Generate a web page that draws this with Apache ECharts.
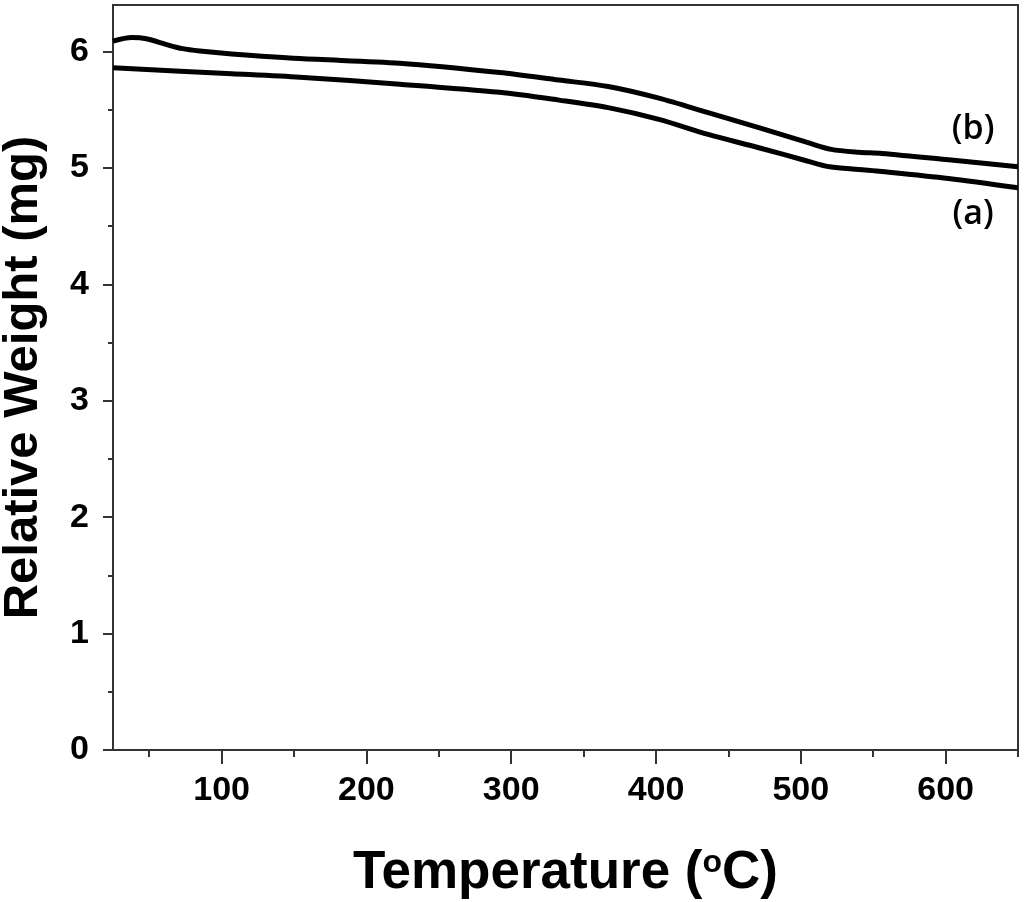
<!DOCTYPE html>
<html>
<head>
<meta charset="utf-8">
<script src="https://cdn.jsdelivr.net/npm/echarts@6/dist/echarts.min.js"></script>
<style>
html,body{margin:0;padding:0;background:#fff;}
#chart{width:1024px;height:902px;}
</style>
</head>
<body>
<div id="chart"></div>
<script>
// Temperature (°C) and relative weight (mg)
const tempB = [25, 38, 48, 62, 73, 85, 107, 154, 223, 292, 333, 367, 402, 436, 471, 505, 521, 540, 556, 602, 650];
const weightB = [6.09, 6.12, 6.11, 6.06, 6.025, 6.005, 5.98, 5.94, 5.90, 5.82, 5.755, 5.70, 5.60, 5.475, 5.346, 5.217, 5.16, 5.135, 5.125, 5.07, 5.01];
const tempA = [25, 107, 154, 223, 292, 333, 367, 402, 436, 471, 505, 520, 540, 556, 602, 650];
const weightA = [5.86, 5.81, 5.78, 5.72, 5.65, 5.583, 5.518, 5.417, 5.288, 5.174, 5.058, 5.01, 4.987, 4.97, 4.91, 4.83];

const xMajorTicks = [100, 200, 300, 400, 500, 600];
const xMinorTicks = [50, 150, 250, 350, 450, 550, 650];
const yMajorTicks = [0, 1, 2, 3, 4, 5, 6];
const yMinorTicks = [0.5, 1.5, 2.5, 3.5, 4.5, 5.5];

const curveLabels = ['(a)', '(b)'];
const labelPosA = [619, 4.60];
const labelPosB = [619, 5.33];

const zip = (xs, ys) => xs.map((x, i) => [x, ys[i]]);

const chart = echarts.init(document.getElementById('chart'));
const axisColor = '#333';
const font = 'Liberation Sans, Arial, sans-serif';

chart.setOption({
  animation: false,
  backgroundColor: '#fff',
  grid: {
    left: 113, right: 6, top: 5, bottom: 152,
    containLabel: false, outerBoundsMode: 'none',
    show: true, borderColor: axisColor, borderWidth: 2, backgroundColor: 'transparent'
  },
  xAxis: [
    {
      type: 'value', min: 25, max: 650,
      axisLine: { show: true, lineStyle: { color: axisColor, width: 2 } },
      axisTick: { show: true, length: 14, lineStyle: { color: axisColor, width: 2 }, customValues: xMajorTicks },
      axisLabel: { show: true, customValues: xMajorTicks, margin: 24, color: '#000', fontSize: 34, fontWeight: 'bold', fontFamily: font },
      splitLine: { show: false },
      name: 'Temperature ({sup|o}C)',
      nameLocation: 'middle',
      nameGap: 97,
      nameTextStyle: {
        color: '#000', fontSize: 53, fontWeight: 'bold', fontFamily: font,
        rich: {
          sup: { fontSize: 32, fontWeight: 'bold', fontFamily: font, color: '#000', padding: [0, 0, 20, 0] }
        }
      }
    },
    {
      type: 'value', min: 25, max: 650, position: 'bottom',
      axisLine: { show: false },
      axisTick: { show: true, length: 7, lineStyle: { color: axisColor, width: 2 }, customValues: xMinorTicks },
      axisLabel: { show: false },
      splitLine: { show: false }
    }
  ],
  yAxis: [
    {
      type: 'value', min: 0, max: 6.4,
      axisLine: { show: true, lineStyle: { color: axisColor, width: 2 } },
      axisTick: { show: true, length: 10, lineStyle: { color: axisColor, width: 2 }, customValues: yMajorTicks },
      axisLabel: { show: true, customValues: yMajorTicks, margin: 24, color: '#000', fontSize: 34, fontWeight: 'bold', fontFamily: font },
      splitLine: { show: false },
      name: 'Relative Weight (mg)',
      nameLocation: 'middle',
      nameGap: 65,
      nameTextStyle: { color: '#000', fontSize: 49, fontWeight: 'bold', fontFamily: font }
    },
    {
      type: 'value', min: 0, max: 6.4, position: 'left',
      axisLine: { show: false },
      axisTick: { show: true, length: 5, lineStyle: { color: axisColor, width: 2 }, customValues: yMinorTicks },
      axisLabel: { show: false },
      splitLine: { show: false }
    }
  ],
  series: [
    {
      name: curveLabels[0], type: 'line', xAxisIndex: 0, yAxisIndex: 0,
      data: zip(tempA, weightA), showSymbol: false, smooth: 0.3,
      lineStyle: { color: '#000', width: 5 },
      markPoint: {
        symbol: 'circle', symbolSize: 0,
        label: { show: true, formatter: curveLabels[0], color: '#000', fontSize: 34, fontWeight: 600, fontFamily: 'Open Sans, sans-serif', position: 'inside' },
        data: [{ coord: labelPosA }]
      }
    },
    {
      name: curveLabels[1], type: 'line', xAxisIndex: 0, yAxisIndex: 0,
      data: zip(tempB, weightB), showSymbol: false, smooth: 0.3,
      lineStyle: { color: '#000', width: 5 },
      markPoint: {
        symbol: 'circle', symbolSize: 0,
        label: { show: true, formatter: curveLabels[1], color: '#000', fontSize: 34, fontWeight: 600, fontFamily: 'Open Sans, sans-serif', position: 'inside' },
        data: [{ coord: labelPosB }]
      }
    }
  ]
});
</script>
</body>
</html>
